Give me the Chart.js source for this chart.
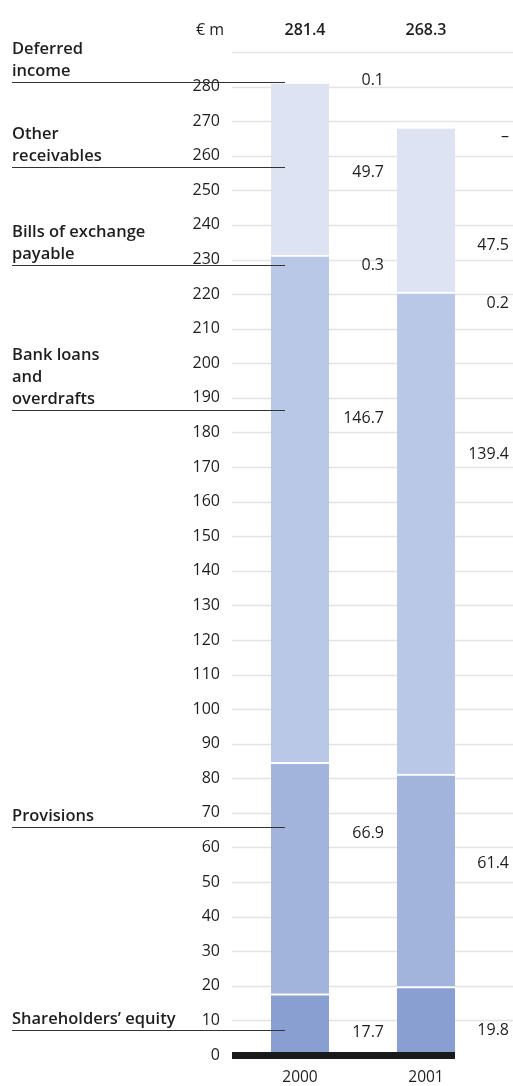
<!DOCTYPE html>
<html>
<head>
<meta charset="utf-8">
<script src="https://cdn.jsdelivr.net/npm/chart.js@4"></script>
<style>
  html, body { margin: 0; padding: 0; background: #fff; }
  #wrap { width: 513px; height: 1086px; position: relative; }
</style>
</head>
<body>
<div id="wrap"><canvas id="liabChart"></canvas></div>
<script>
// values in € m
const years = ["2000", "2001"];
const equity = [17.7, 19.8];
const provisions = [66.9, 61.4];
const bankLoans = [146.7, 139.4];
const bills = [0.3, 0.2];
const otherRec = [49.7, 47.5];
const deferred = [0.1, 0];
const totals = ["281.4", "268.3"];

const seriesNames = [
  ["Shareholders’ equity"],
  ["Provisions"],
  ["Bank loans", "and", "overdrafts"],
  ["Bills of exchange", "payable"],
  ["Other", "receivables"],
  ["Deferred", "income"]
];
const valueText2000 = ["17.7", "66.9", "146.7", "0.3", "49.7", "0.1"];
const valueText2001 = ["19.8", "61.4", "139.4", "0.2", "47.5", "–"];

// where the annotations sit, in axis units
const leaderAt = [7.2, 65.9, 186.5, 228.4, 256.7, 281.3];
const valueAt2000 = [6.4, 64.2, 184.1, 228.4, 255.3, 281.9];
const valueAt2001 = [7.2, 55.5, 173.5, 217.4, 234.2, 265.6];

const colors = ["#8a9fd1", "#a3b4dc", "#bac8e8", "#d1daef", "#dde3f3", "#eef1f9"];
const FONT = "'Open Sans', 'DejaVu Sans', sans-serif";
const BAR_W = 58;

const annotate = {
  id: "annotate",
  beforeDatasetsDraw(chart) {
    const { ctx, chartArea, scales: { y } } = chart;
    ctx.save();
    ctx.strokeStyle = "#e3e3e3";
    ctx.lineWidth = 1.5;
    for (let v = 10; v <= 290; v += 10) {
      const py = Math.round(y.getPixelForValue(v)) + 0.5;
      ctx.beginPath();
      ctx.moveTo(chartArea.left - 5, py);
      ctx.lineTo(chart.width, py);
      ctx.stroke();
    }
    ctx.restore();
  },
  afterDatasetsDraw(chart) {
    const { ctx, chartArea, scales: { x, y } } = chart;
    const x0 = x.getPixelForValue(0);
    const x1 = x.getPixelForValue(1);
    ctx.save();

    // black base
    const y0 = y.getPixelForValue(0);
    ctx.fillStyle = "#1a1a1a";
    ctx.fillRect(chartArea.left - 5, y0 - 3, x1 + BAR_W / 2 - (chartArea.left - 5), 7);

    // left labels with leader lines
    ctx.strokeStyle = "#333";
    ctx.lineWidth = 1.2;
    ctx.fillStyle = "#1e1e1e";
    ctx.font = "600 16.5px " + FONT;
    ctx.textAlign = "left";
    ctx.textBaseline = "alphabetic";
    seriesNames.forEach((lines, i) => {
      const py = Math.round(y.getPixelForValue(leaderAt[i])) + 0.5;
      ctx.beginPath();
      ctx.moveTo(12, py);
      ctx.lineTo(x0 - BAR_W / 2 + 14, py);
      ctx.stroke();
      for (let k = 0; k < lines.length; k++) {
        const back = lines.length - 1 - k;
        ctx.fillText(lines[k], 12, py - 7 - back * 22);
      }
    });

    // segment values
    ctx.font = "16px " + FONT;
    ctx.fillStyle = "#1e1e1e";
    ctx.textAlign = "right";
    ctx.textBaseline = "middle";
    valueText2000.forEach((t, i) => {
      ctx.fillText(t, x0 + BAR_W / 2 + 55, y.getPixelForValue(valueAt2000[i]));
    });
    valueText2001.forEach((t, i) => {
      ctx.fillText(t, x1 + BAR_W / 2 + 54, y.getPixelForValue(valueAt2001[i]));
    });

    // totals and unit
    const ty = chartArea.top - 22;
    ctx.font = "600 16px " + FONT;
    ctx.textAlign = "center";
    ctx.fillText(totals[0], x0 + 5, ty);
    ctx.fillText(totals[1], x1, ty);
    ctx.font = "16px " + FONT;
    ctx.textAlign = "right";
    ctx.fillText("€ m", chartArea.left - 13, ty);

    ctx.restore();
  }
};

const stackData = [equity, provisions, bankLoans, bills, otherRec, deferred];

new Chart(document.getElementById("liabChart").getContext("2d"), {
  type: "bar",
  data: {
    labels: years,
    datasets: stackData.map((d, i) => ({
      label: seriesNames[i].join(" "),
      data: d,
      backgroundColor: colors[i],
      borderColor: "#ffffff",
      borderWidth: { top: 2, right: 0, bottom: 0, left: 0 },
      borderSkipped: false,
      barThickness: BAR_W
    }))
  },
  options: {
    responsive: true,
    maintainAspectRatio: false,
    animation: false,
    layout: { padding: { top: 52, right: 24, left: 0, bottom: 0 } },
    plugins: {
      legend: { display: false },
      tooltip: { enabled: false }
    },
    scales: {
      x: {
        stacked: true,
        grid: { display: false, drawTicks: false },
        border: { display: false },
        ticks: { color: "#1e1e1e", font: { family: FONT, size: 15.5 }, padding: 13 },
        afterFit(s) { s.height = 31; }
      },
      y: {
        stacked: true,
        min: 0,
        max: 290,
        grid: { display: false, drawTicks: false },
        border: { display: false },
        ticks: {
          stepSize: 10,
          color: "#1e1e1e",
          font: { family: FONT, size: 16 },
          padding: 17,
          callback: v => (v > 280 ? "" : v)
        },
        afterFit(s) { s.width = 237; }
      }
    }
  },
  plugins: [annotate]
});
</script>
</body>
</html>
